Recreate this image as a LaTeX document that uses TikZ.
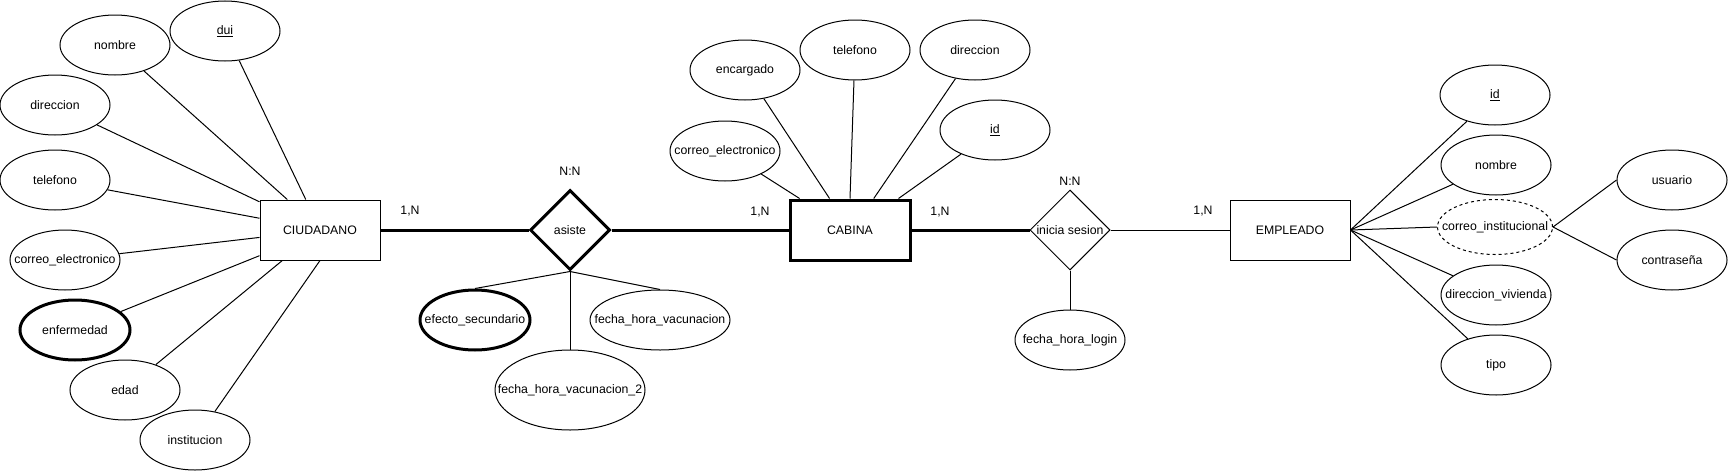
\documentclass[tikz,border=0pt]{standalone}
\usepackage{fontspec}
\setmainfont{Liberation Sans}
\usetikzlibrary{shapes.geometric}
\tikzset{
	entidad/.style={draw, rectangle, minimum width=120pt, minimum height=60pt, inner sep=0pt},
	atributo/.style={draw, ellipse, minimum width=110pt, minimum height=60pt, inner sep=0pt},
	multivalor/.style={atributo, line width=3pt},
	derivado/.style={atributo, dash pattern=on 3pt off 3pt, minimum width=115pt, minimum height=55pt},
	relacion/.style={draw, diamond, minimum width=80pt, minimum height=80pt, inner sep=0pt},
	grueso/.style={line width=3pt},
	card/.style={inner sep=0pt}
}

\begin{document}
\begin{tikzpicture}[x=1pt, y=-1pt, line width=1pt, every node/.style={font=\fontsize{12.3}{14}\selectfont}]
	\useasboundingbox (0,0) rectangle (1728,471);

	% ciudadano y sus atributos
	\node[entidad] (ciudadano) at (320,230) {CIUDADANO};
	\node[atributo, label={center:\underline{dui}}] (c-dui) at (225,31) {};
	\node[atributo, label=center:nombre] (c-nombre) at (115,45) {};
	\node[atributo, label=center:direccion] (c-direccion) at (55,105) {};
	\node[atributo, label=center:telefono] (c-telefono) at (55,180) {};
	\node[atributo, label=center:correo\_electronico] (c-correo) at (65,260) {};
	\node[multivalor, label=center:enfermedad] (c-enfermedad) at (75,330) {};
	\node[atributo, label=center:edad] (c-edad) at (125,390) {};
	\node[atributo, label=center:institucion] (c-institucion) at (195,440) {};
	\draw (c-dui) -- (ciudadano.115);
	\draw (c-nombre) -- (ciudadano.137.7);
	\draw (c-direccion) -- (ciudadano.155);
	\draw (c-telefono) -- (ciudadano.169.6);
	\draw (c-correo) -- (ciudadano.187.6);
	\draw (c-enfermedad) -- (ciudadano.203.4);
	\draw (c-edad) -- (ciudadano.219.8);
	\draw (c-institucion) -- (ciudadano.270);

	% relacion asiste
	\node[relacion, grueso, label=center:asiste] (asiste) at (570,230) {};
	\node[card] (nn-asiste) at (570,171) {N:N};
	\node[card] (card-ciud) at (410,211) {1,N};
	\node[multivalor, label=center:efecto\_secundario] (a-efecto) at (475,320) {};
	\node[atributo, minimum width=140pt, label=center:fecha\_hora\_vacunacion] (a-fecha) at (660,320) {};
	\node[atributo, minimum width=150pt, minimum height=80pt, label=center:fecha\_hora\_vacunacion\_2] (a-fecha2) at (570,390) {};
	\draw (asiste.south) -- (a-efecto.north);
	\draw (asiste.south) -- (a-fecha.north);
	\draw (asiste.south) -- (a-fecha2.north);

	% cabina
	\node[entidad, grueso] (cabina) at (850,230) {CABINA};
	\node[card] (card-cab1) at (760,212) {1,N};
	\node[card] (card-cab2) at (940,212) {1,N};
	\node[atributo, label=center:correo\_electronico] (b-correo) at (725,151) {};
	\node[atributo, label=center:encargado] (b-encargado) at (745,70) {};
	\node[atributo, label=center:telefono] (b-telefono) at (855,50) {};
	\node[atributo, label=center:direccion] (b-direccion) at (975,50) {};
	\node[atributo, label={center:\underline{id}}] (b-id) at (995,130) {};
	\draw (b-correo) -- (cabina.148);
	\draw (b-encargado) -- (cabina.123.7);
	\draw (b-telefono) -- (cabina.90);
	\draw (b-direccion) -- (cabina.53.7);
	\draw (b-id) -- (cabina.33.1);

	% relacion inicia sesion
	\node[relacion, label=center:inicia sesion] (sesion) at (1070,230) {};
	\node[card] (nn-sesion) at (1070,181) {N:N};
	\node[card] (card-emp) at (1203,211) {1,N};
	\node[atributo, label=center:fecha\_hora\_login] (s-login) at (1070,340) {};
	\draw (sesion.south) -- (s-login.north);

	% empleado
	\node[entidad] (empleado) at (1290,230) {EMPLEADO};
	\node[atributo, label={center:\underline{id}}] (e-id) at (1495,95) {};
	\node[atributo, label=center:nombre] (e-nombre) at (1496,165) {};
	\node[derivado, label=center:correo\_institucional] (e-correo) at (1495,227) {};
	\node[atributo, label=center:direccion\_vivienda] (e-direccion) at (1496,295) {};
	\node[atributo, label=center:tipo] (e-tipo) at (1496,365) {};
	\node[atributo, label=center:usuario] (e-usuario) at (1672,180) {};
	\node[atributo, label=center:contraseña] (e-clave) at (1672,260) {};
	\draw (empleado.east) -- (e-id);
	\draw (empleado.east) -- (e-nombre);
	\draw (empleado.east) -- (e-correo.west);
	\draw (empleado.east) -- (e-direccion);
	\draw (empleado.east) -- (e-tipo);
	\draw (e-correo.east) -- (e-usuario.west);
	\draw (e-correo.east) -- (e-clave.west);

	% lineas entre entidades y relaciones
	\draw[grueso] (ciudadano.east) -- (asiste.west);
	\draw[grueso] (asiste.east) -- (cabina.west);
	\draw[grueso] (cabina.east) -- (sesion.west);
	\draw (sesion.east) -- (empleado.west);
\end{tikzpicture}
\end{document}
